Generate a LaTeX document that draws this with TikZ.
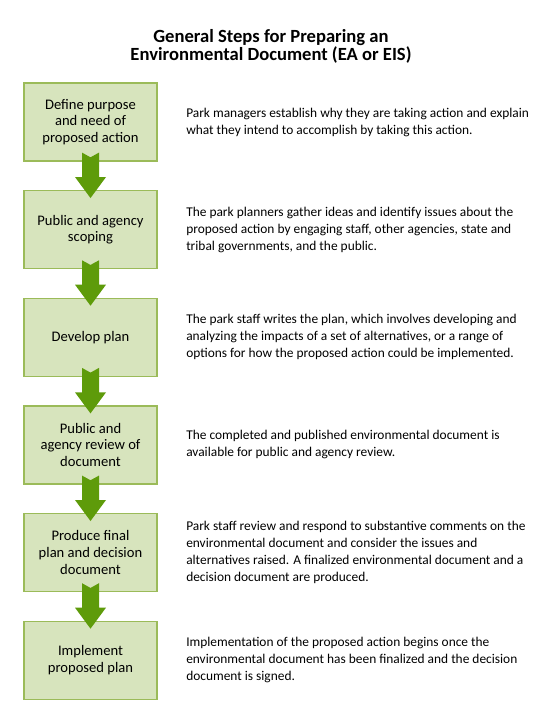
\documentclass[tikz,border=0pt]{standalone}
\usepackage{fontspec}
\setmainfont{Carlito}
\usepackage{tikz}
\tikzset{node distance=30.2pt and 20.5pt, auto}
\usetikzlibrary{positioning}
\usepackage{xcolor}
\definecolor{boxfill}{HTML}{D7E4BD}
\definecolor{boxline}{HTML}{9BBB59}
\definecolor{arrowgreen}{HTML}{5E9B0A}
\tikzset{
  stepbox/.style={draw=boxline, fill=boxfill, line width=1.2pt, minimum width=133pt,
    minimum height=78pt, align=center, inner sep=0pt, font=\fontsize{14.6}{16.7}\selectfont},
  stepnote/.style={align=left, inner sep=0pt, font=\fontsize{13.4}{17}\selectfont},
  downarrow/.style={fill=arrowgreen}
}

\begin{document}
\begin{tikzpicture}[x=1pt,y=1pt]
\useasboundingbox (0,0) rectangle (557,-726);

\node[align=center, font=\bfseries\fontsize{18.6}{18}\selectfont] (title) at (271,-46)
  {General Steps for Preparing an\\Environmental Document (EA or EIS)};

% steps
\node[stepbox] (s1) at (90.5,-122) {Define purpose\\and need of\\proposed action};
\node[stepbox, below=of s1] (s2) {Public and agency\\scoping};
\node[stepbox, below=of s2] (s3) {Develop plan};
\node[stepbox, below=of s3] (s4) {Public and\\agency review of\\document};
\node[stepbox, below=of s4] (s5) {Produce final\\plan and decision\\document};
\node[stepbox, below=of s5] (s6) {Implement\\proposed plan};

% notes
\node[stepnote, right=of s1] (n1) {Park managers establish why they are taking action and explain\\what they intend to accomplish by taking this action.};
\node[stepnote, right=of s2] (n2) {The park planners gather ideas and identify issues about the\\proposed action by engaging staff, other agencies, state and\\tribal governments, and the public.};
\node[stepnote, right=of s3] (n3) {The park staff writes the plan, which involves developing and\\analyzing the impacts of a set of alternatives, or a range of\\options for how the proposed action could be implemented.};
\node[stepnote, right=of s4] (n4) {The completed and published environmental document is\\available for public and agency review.};
\node[stepnote, right=of s5] (n5) {Park staff review and respond to substantive comments on the\\environmental document and consider the issues and\\alternatives raised. A finalized environmental document and a\\decision document are produced.};
\node[stepnote, right=of s6] (n6) {Implementation of the proposed action begins once the\\environmental document has been finalized and the decision\\document is signed.};

% arrows
\foreach \a/\b in {1/2,2/3,3/4,4/5,5/6}
  \fill[downarrow] ([shift={(-8.5pt,9pt)}]s\a.south) -- ([shift={(0pt,4.3pt)}]s\a.south)
    -- ([shift={(8.5pt,9pt)}]s\a.south) -- ([shift={(8.5pt,13pt)}]s\b.north)
    -- ([shift={(15.5pt,13pt)}]s\b.north) -- ([shift={(0pt,-8pt)}]s\b.north)
    -- ([shift={(-15.5pt,13pt)}]s\b.north) -- ([shift={(-8.5pt,13pt)}]s\b.north) -- cycle;
\end{tikzpicture}
\end{document}
